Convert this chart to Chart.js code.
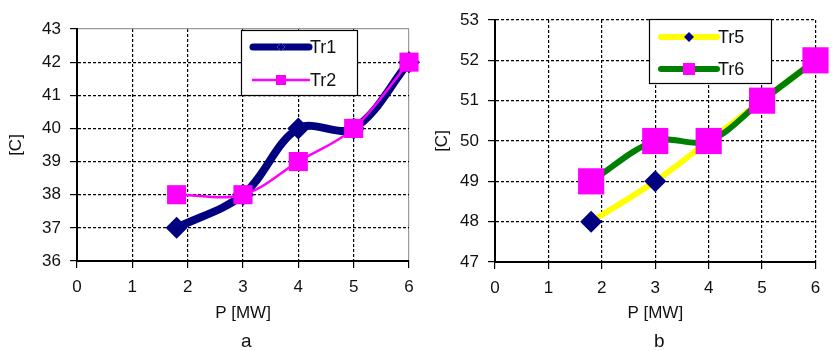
<!DOCTYPE html>
<html>
<head>
<meta charset="utf-8">
<script src="https://cdn.jsdelivr.net/npm/chart.js@4"></script>
<style>
  body { margin: 0; background: #fff; }
  #wrap { position: relative; width: 834px; height: 351px; overflow: hidden; font-family: "Liberation Sans", Arial, sans-serif; }
  canvas { position: absolute; top: 0; }
  #cA { left: 0; }
  #cB { left: 414px; }
  .cap { position: absolute; top: 330px; font-size: 19px; color: #111; }
</style>
</head>
<body>
<div id="wrap">
  <canvas id="cA" width="434" height="351"></canvas>
  <canvas id="cB" width="420" height="351"></canvas>
  <div class="cap" style="left:241px">a</div>
  <div class="cap" style="left:654px">b</div>
</div>
<script>
// data
const pValues = [1.8, 3, 4, 5, 6];
const tr1 = [37, 38, 40, 40, 42];
const tr2 = [38, 38, 39, 40, 42];
const tr5 = [48, 49, 50, 51, 52];
const tr6 = [49, 50, 50, 51, 52];
const xTicks = [0, 1, 2, 3, 4, 5, 6];

const FONT = "'Liberation Sans', Arial, sans-serif";
const FSIZE = 17;

function pts(ys) {
  return pValues.map((x, i) => ({ x: x, y: ys[i] }));
}

// boxed legend with a line sample and a marker, like the spreadsheet one
const boxLegend = {
  id: "boxLegend",
  afterDraw(chart, args, opts) {
    const ctx = chart.ctx;
    ctx.save();
    ctx.fillStyle = "#fff";
    ctx.fillRect(opts.x, opts.y, opts.w, opts.h);
    ctx.strokeStyle = "#000";
    ctx.lineWidth = 1.2;
    ctx.strokeRect(opts.x + 0.5, opts.y + 0.5, opts.w, opts.h);
    chart.data.datasets.forEach(function (ds, i) {
      const y = opts.y + opts.rows[i];
      const x1 = opts.x + 12, x2 = opts.x + 68;
      ctx.beginPath();
      ctx.lineCap = "round";
      ctx.strokeStyle = ds.borderColor;
      ctx.lineWidth = opts.lineWidths[i];
      ctx.moveTo(x1, y);
      ctx.lineTo(x2, y);
      ctx.stroke();
      Chart.helpers.drawPoint(ctx, {
        pointStyle: ds.pointStyle,
        radius: opts.markers[i],
        rotation: 0,
        borderWidth: 0
      }, (x1 + x2) / 2, y);
      ctx.fillStyle = ds.pointBackgroundColor;
      ctx.fill();
      ctx.fillStyle = "#111";
      ctx.font = "18px " + FONT;
      ctx.textBaseline = "middle";
      ctx.textAlign = "left";
      ctx.fillText(ds.label, x2 + 1, y + 1);
    });
    ctx.restore();
  }
};

function makeOptions(yMin, yMax, yAxisWidth, yTitlePad, pad, legend, greyEdge) {
  return {
    responsive: false,
    animation: false,
    layout: { padding: { top: pad.top, right: pad.right, bottom: 0, left: 0 } },
    plugins: {
      legend: { display: false },
      tooltip: { enabled: false },
      boxLegend: legend
    },
    scales: {
      x: {
        type: "linear",
        min: 0,
        max: 6,
        afterFit: function (s) { s.height = pad.xHeight; },
        afterBuildTicks: function (s) { s.ticks = xTicks.map(v => ({ value: v })); },
        ticks: { color: "#111", font: { family: FONT, size: FSIZE }, padding: 9 },
        grid: {
          color: ctx => (greyEdge && ctx.tick && ctx.tick.value === 6) ? "#999" : "#000",
          lineWidth: 1.2,
          tickLength: 7,
          tickColor: "#000",
          tickBorderDash: []
        },
        border: {
          display: true, color: "#000", width: 2,
          dash: ctx => (greyEdge && ctx.tick && ctx.tick.value === 6) ? [] : [3, 2]
        },
        title: {
          display: true, text: "P [MW]", color: "#111",
          font: { family: FONT, size: FSIZE }, padding: { top: 0, bottom: 27 }
        }
      },
      y: {
        min: yMin,
        max: yMax,
        afterFit: function (s) { s.width = yAxisWidth; },
        ticks: { stepSize: 1, color: "#111", font: { family: FONT, size: FSIZE }, padding: 9 },
        grid: {
          color: ctx => (greyEdge && ctx.tick && ctx.tick.value === yMax) ? "#999" : "#000",
          lineWidth: 1.2,
          tickLength: 7,
          tickColor: "#000",
          tickBorderDash: []
        },
        border: {
          display: true, color: "#000", width: 2,
          dash: ctx => (greyEdge && ctx.tick && ctx.tick.value === yMax) ? [] : [3, 2]
        },
        title: {
          display: true, text: "[C]", color: "#111",
          font: { family: FONT, size: FSIZE }, padding: { top: yTitlePad, bottom: 0 }
        }
      }
    }
  };
}

new Chart(document.getElementById("cA").getContext("2d"), {
  type: "line",
  data: {
    datasets: [
      {
        label: "Tr1",
        data: pts(tr1),
        borderColor: "#000080",
        borderWidth: 8,
        pointStyle: "rectRot",
        pointRadius: 11,
        pointBackgroundColor: "#000080",
        pointBorderWidth: 0,
        tension: 0.35,
        clip: false,
        order: 1
      },
      {
        label: "Tr2",
        data: pts(tr2),
        borderColor: "#FF00FF",
        borderWidth: 2.5,
        pointStyle: "rect",
        pointRadius: 13.5,
        pointBackgroundColor: "#FF00FF",
        pointBorderWidth: 0,
        tension: 0.35,
        clip: false,
        order: 0
      }
    ]
  },
  options: makeOptions(36, 43, 77, 6, { top: 29, right: 25, xHeight: 90 },
    { x: 241, y: 30, w: 116, h: 65, rows: [17, 50], lineWidths: [7, 2.5], markers: [4, 7] }, true),
  plugins: [boxLegend]
});

new Chart(document.getElementById("cB").getContext("2d"), {
  type: "line",
  data: {
    datasets: [
      {
        label: "Tr5",
        data: pts(tr5),
        borderColor: "#FFFF00",
        borderWidth: 6,
        pointStyle: "rectRot",
        pointRadius: 11,
        pointBackgroundColor: "#000080",
        pointBorderWidth: 0,
        tension: 0.35,
        clip: false,
        order: 1
      },
      {
        label: "Tr6",
        data: pts(tr6),
        borderColor: "#008000",
        borderWidth: 6,
        pointStyle: "rect",
        pointRadius: 18.5,
        pointBackgroundColor: "#FF00FF",
        pointBorderWidth: 0,
        tension: 0.35,
        clip: false,
        order: 0
      }
    ]
  },
  options: makeOptions(47, 53, 81, 18, { top: 20, right: 11, xHeight: 89 },
    { x: 235, y: 19, w: 122, h: 64, rows: [18, 50], lineWidths: [6, 6], markers: [5, 8.5] }, false),
  plugins: [boxLegend]
});
</script>
</body>
</html>
